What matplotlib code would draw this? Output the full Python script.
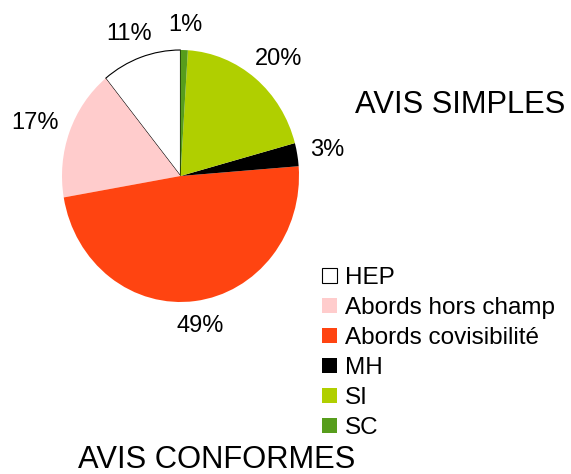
import numpy as np
import matplotlib
matplotlib.use("Agg")
import matplotlib.pyplot as plt

plt.rcParams['font.family'] = ['Liberation Sans', 'DejaVu Sans']

# --- Data --- #
categories = ["HEP", "Abords hors champ", "Abords covisibilité", "MH", "SI", "SC"]
values = [11, 17, 49, 3, 20, 1]
colors = ["#ffffff", "#ffcccc", "#ff4411", "#000000", "#b0cf00", "#579d1c"]

W, H = 571, 474

fig = plt.figure(figsize=(W / 100, H / 100), dpi=100)

# pie box in pixels (slightly taller than wide, like the original)
ax = fig.add_axes([62 / W, (H - 302) / H, 237 / W, 252 / H])
wedges, _ = ax.pie(values, colors=colors, startangle=90, counterclock=True,
                   wedgeprops=dict(linewidth=0))
wedges[0].set_edgecolor("black")
wedges[0].set_linewidth(0.8)
ax.set_aspect('auto')
ax.set_xlim(-1, 1)
ax.set_ylim(-1, 1)

# --- Percentage labels outside the pie --- #
labels = []
for w, v in zip(wedges, values):
    ang = np.deg2rad((w.theta1 + w.theta2) / 2)
    c, s = np.cos(ang), np.sin(ang)
    t = ax.annotate(f"{v}%", xy=(1.11 * c, 1.11 * s), xytext=(0, 0),
                    textcoords='offset pixels', ha='center', va='center',
                    fontsize=17, annotation_clip=False)
    labels.append((t, c, s))

fig.canvas.draw()
r = fig.canvas.get_renderer()
for t, c, s in labels:
    bb = t.get_window_extent(r)
    t.xyann = (c * bb.width / 2, s * bb.height / 2)

# --- Legend --- #
fig.legend(wedges, categories, loc='upper left',
           bbox_to_anchor=(322 / W, 1 - 267 / H), frameon=False,
           fontsize=17.5, handlelength=0.62, handleheight=0.62,
           handletextpad=0.33, labelspacing=0.33, borderpad=0,
           borderaxespad=0)

# --- Titles --- #
fig.text(355 / W, 1 - 113 / H, "AVIS SIMPLES", fontsize=22.2, va='baseline')
fig.text(78 / W, 1 - 468 / H, "AVIS CONFORMES", fontsize=22.2, va='baseline')

fig.savefig("out.png", dpi=100)
